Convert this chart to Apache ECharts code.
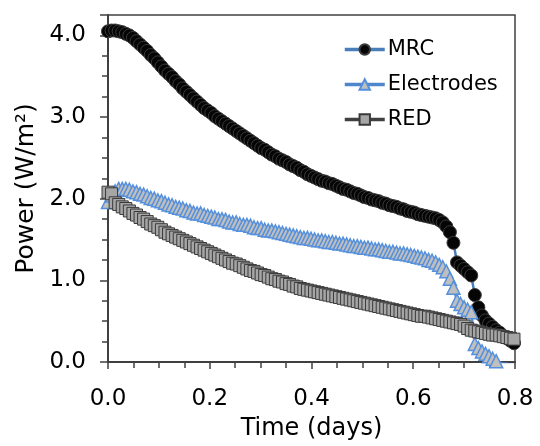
<!DOCTYPE html>
<html>
<head>
<meta charset="utf-8">
<script src="https://cdn.jsdelivr.net/npm/echarts@6/dist/echarts.min.js"></script>
<style>
html,body{margin:0;padding:0;background:#fff;}
#chart{width:540px;height:446px;}
</style>
</head>
<body>
<div id="chart"></div>
<script>
// Sampling times (days), one reading every ~10 minutes
var timeDays = [0.000,0.007,0.014,0.021,0.028,0.035,0.042,0.049,0.056,0.063,
  0.070,0.077,0.084,0.091,0.098,0.105,0.112,0.119,0.126,0.133,
  0.140,0.147,0.154,0.161,0.168,0.175,0.182,0.189,0.196,0.203,
  0.210,0.217,0.224,0.231,0.238,0.245,0.252,0.259,0.266,0.273,
  0.280,0.287,0.294,0.301,0.308,0.315,0.322,0.329,0.336,0.343,
  0.350,0.357,0.364,0.371,0.378,0.385,0.392,0.399,0.406,0.413,
  0.420,0.427,0.434,0.441,0.448,0.455,0.462,0.469,0.476,0.483,
  0.490,0.497,0.504,0.511,0.518,0.525,0.532,0.539,0.546,0.553,
  0.560,0.567,0.574,0.581,0.588,0.595,0.602,0.609,0.616,0.623,
  0.630,0.637,0.644,0.651,0.658,0.665,0.672,0.679,0.686,0.693,
  0.700,0.707,0.714,0.721,0.728,0.735,0.742,0.749,0.756,0.763,
  0.770,0.777,0.784,0.791,0.798];

// Power (W/m2)
var mrcPower = [4.05,4.06,4.06,4.05,4.04,4.02,4.00,3.97,3.93,3.89,
  3.85,3.81,3.76,3.72,3.67,3.62,3.57,3.53,3.49,3.44,
  3.40,3.35,3.31,3.27,3.23,3.19,3.15,3.11,3.08,3.05,
  3.01,2.98,2.95,2.92,2.89,2.86,2.83,2.80,2.77,2.74,
  2.71,2.68,2.65,2.62,2.60,2.57,2.54,2.52,2.49,2.47,
  2.45,2.42,2.40,2.38,2.35,2.33,2.30,2.28,2.26,2.24,
  2.22,2.21,2.19,2.18,2.16,2.14,2.12,2.11,2.09,2.07,
  2.06,2.04,2.02,2.01,1.99,1.98,1.97,1.95,1.94,1.92,
  1.91,1.90,1.88,1.87,1.85,1.84,1.83,1.81,1.80,1.79,
  1.78,1.77,1.76,1.74,1.71,1.66,1.59,1.46,1.22,1.18,
  1.14,1.10,1.06,0.82,0.67,0.57,0.51,0.47,0.43,0.39,
  0.36,0.32,0.29,0.26,0.23];

var elecPower = [1.96,2.04,2.09,2.12,2.12,2.12,2.11,2.09,2.08,2.06,
  2.05,2.03,2.01,2.00,1.98,1.97,1.95,1.93,1.92,1.90,
  1.89,1.88,1.86,1.85,1.83,1.82,1.82,1.80,1.79,1.78,
  1.77,1.75,1.75,1.74,1.72,1.71,1.71,1.69,1.68,1.68,
  1.67,1.65,1.64,1.64,1.62,1.61,1.61,1.60,1.59,1.58,
  1.57,1.56,1.55,1.54,1.53,1.52,1.52,1.51,1.50,1.49,
  1.49,1.48,1.47,1.47,1.46,1.45,1.45,1.44,1.43,1.42,
  1.42,1.41,1.40,1.40,1.39,1.38,1.38,1.37,1.36,1.35,
  1.35,1.34,1.33,1.33,1.32,1.31,1.30,1.29,1.28,1.27,
  1.25,1.24,1.22,1.19,1.16,1.11,1.02,0.91,0.75,0.71,
  0.67,0.64,0.61,0.22,0.17,0.13,0.10,0.07,0.04,0.01,
  -0.01,-0.02,-0.02,-0.03,-0.03];

var redPower = [2.08,2.06,1.95,1.93,1.90,1.88,1.85,1.82,1.80,1.77,
  1.75,1.72,1.69,1.67,1.65,1.62,1.59,1.57,1.55,1.53,
  1.51,1.49,1.47,1.45,1.43,1.41,1.39,1.37,1.35,1.33,
  1.31,1.29,1.27,1.25,1.23,1.21,1.20,1.18,1.16,1.14,
  1.12,1.11,1.09,1.07,1.06,1.04,1.02,1.01,0.99,0.98,
  0.96,0.95,0.93,0.92,0.90,0.89,0.88,0.87,0.86,0.85,
  0.84,0.83,0.82,0.81,0.80,0.79,0.78,0.77,0.76,0.75,
  0.74,0.73,0.72,0.71,0.70,0.69,0.68,0.67,0.66,0.65,
  0.64,0.63,0.62,0.61,0.60,0.59,0.58,0.57,0.56,0.56,
  0.55,0.54,0.53,0.52,0.51,0.50,0.49,0.48,0.47,0.46,
  0.44,0.41,0.39,0.38,0.37,0.36,0.35,0.34,0.33,0.33,
  0.32,0.31,0.30,0.29,0.28];

var seriesNames = ['MRC', 'Electrodes', 'RED'];
var xTitle = 'Time (days)';
var yTitle = 'Power (W/m\u00B2)';

function pairs(t, v) { return t.map(function (x, i) { return [x, v[i]]; }); }

var FONT = '"DejaVu Sans", "Liberation Sans", Arial, sans-serif';
var AX = '#404040';
var chart = echarts.init(document.getElementById('chart'), null, {renderer: 'canvas'});
chart.setOption({
  animation: false,
  backgroundColor: '#ffffff',
  textStyle: {fontFamily: FONT},
  grid: {left: 108, right: 25, top: 15, bottom: 84, show: true, borderColor: AX, borderWidth: 1.5, backgroundColor: 'transparent'},
  legend: {
    orient: 'vertical', left: 338, top: 34,
    itemWidth: 40, itemHeight: 13, itemGap: 14,
    lineStyle: {width: 3.5},
    textStyle: {fontSize: 21, color: '#000', fontFamily: FONT, padding: [0, 0, 0, -2]},
    data: seriesNames
  },
  xAxis: {
    type: 'value', min: 0, max: 0.8, interval: 0.2,
    name: xTitle, nameLocation: 'middle', nameGap: 55,
    nameTextStyle: {fontSize: 24, color: '#000', fontFamily: FONT},
    axisLine: {lineStyle: {color: AX, width: 2}},
    axisTick: {show: true, length: 7, lineStyle: {color: AX, width: 1.5}},
    minorTick: {show: true, splitNumber: 4, length: 6, lineStyle: {color: AX, width: 1.5}},
    axisLabel: {fontSize: 23, color: '#000', margin: 26, fontFamily: FONT,
      formatter: function (v) { return v.toFixed(1); }},
    splitLine: {show: false}
  },
  yAxis: [{
    type: 'value', min: 0, max: 4.25, interval: 1, position: 'left',
    name: yTitle, nameLocation: 'middle', nameGap: 69,
    nameTextStyle: {fontSize: 25, color: '#000', fontFamily: FONT},
    axisLine: {show: true, lineStyle: {color: AX, width: 2}},
    axisTick: {show: true, length: 8, lineStyle: {color: AX, width: 1.5}},
    axisLabel: {fontSize: 23, color: '#000', margin: 22, fontFamily: FONT,
      formatter: function (v) { return Math.abs(v - Math.round(v)) < 1e-6 ? v.toFixed(1) : ''; }},
    splitLine: {show: false}
  }, {
    type: 'value', min: 0, max: 4.25, interval: 0.25, position: 'left', offset: 0,
    axisLine: {show: false},
    axisTick: {show: true, length: 6, lineStyle: {color: AX, width: 1.5}},
    axisLabel: {show: false},
    splitLine: {show: false}
  }],
  series: [{
    name: 'MRC', type: 'line', yAxisIndex: 0,
    data: pairs(timeDays, mrcPower),
    symbol: 'circle', symbolSize: 13,
    lineStyle: {color: '#4a7ebb', width: 2.5},
    itemStyle: {color: '#050505', borderColor: '#3a3a3a', borderWidth: 1},
    clip: true
  }, {
    name: 'Electrodes', type: 'line', yAxisIndex: 0,
    data: pairs(timeDays, elecPower),
    symbol: 'triangle', symbolSize: 13,
    lineStyle: {color: '#4f86cc', width: 2.5},
    itemStyle: {color: '#bfbfbf', borderColor: '#5590dc', borderWidth: 1.5},
    clip: true
  }, {
    name: 'RED', type: 'line', yAxisIndex: 0,
    data: pairs(timeDays, redPower),
    symbol: 'rect', symbolSize: 12,
    lineStyle: {color: '#404040', width: 2.5},
    itemStyle: {color: '#a6a6a6', borderColor: '#3a3a3a', borderWidth: 1},
    clip: true
  }]
});
</script>
</body>
</html>
